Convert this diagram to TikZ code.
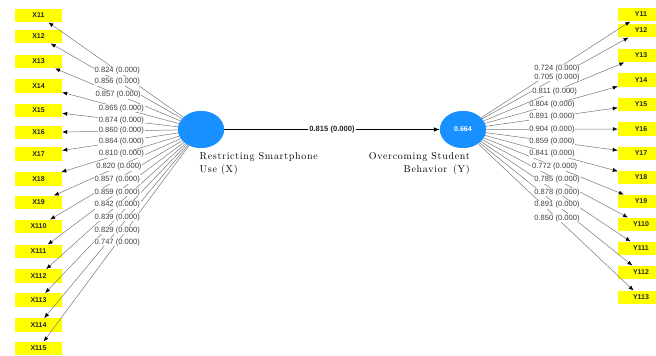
\documentclass[tikz,border=0pt]{standalone}
\usepackage{fontspec}
\newfontfamily\lblfont{Liberation Sans}
\newfontfamily\namefont[LetterSpace=7]{Latin Modern Roman}
\usetikzlibrary{arrows.meta,shapes.geometric,calc}
\definecolor{lvblue}{RGB}{24,144,255}
\definecolor{indyellow}{RGB}{255,255,0}
\definecolor{linegray}{RGB}{120,120,120}

\begin{document}
\begin{tikzpicture}[x=1pt,y=-1pt,
  ind/.style={fill=indyellow, minimum width=47pt, minimum height=13.5pt, inner sep=0pt,
              font=\lblfont\fontsize{7}{8}\selectfont\bfseries, text=black!85},
  lv/.style={ellipse, fill=lvblue, minimum width=46pt, minimum height=37pt, inner sep=0pt,
             font=\lblfont\fontsize{7}{8}\selectfont\bfseries, text=white},
  load/.style={draw=linegray, line width=0.5pt, -{Latex[length=5pt,width=4pt,color=black]}},
  wl/.style={fill=white, inner sep=0.6pt, font=\lblfont\fontsize{7.6}{9}\selectfont, text=black!75},
  lvname/.style={font=\namefont\fontsize{10}{12.5}\selectfont}
]
\useasboundingbox (0,0) rectangle (656,356);

% latent variables
\node[lv] (X) at (201,129.5) {};
\node[lv] (Y) at (463,129.5) {0.664};

% indicators of X
\foreach \idx/\yy in {11/15.5,12/36.5,13/61.5,14/86,15/110.5,16/132.5,17/154,18/179,
                      19/202.5,110/226.5,111/251.5,112/276,113/300,114/325,115/348.5}
  \node[ind] (X\idx) at (38.5,\yy) {X\idx};

% indicators of Y
\foreach \idx/\yy in {11/14.5,12/30.5,13/55.5,14/80,15/104.5,16/129,17/153.5,18/177.5,
                      19/201.5,110/224.5,111/248.5,112/272.5,113/297.5}
  \node[ind, minimum width=46pt] (Y\idx) at (641,\yy) {Y\idx};

% outer loadings of X
\foreach \idx/\val/\fr in {11/0.824/0.515,12/0.856/0.515,13/0.857/0.51,14/0.865/0.49,
                           15/0.874/0.49,16/0.860/0.49,17/0.864/0.49,18/0.810/0.49,
                           19/0.820/0.505,110/0.857/0.515,111/0.859/0.515,112/0.842/0.515,
                           113/0.839/0.515,114/0.829/0.515,115/0.747/0.515}
  \draw[load] (X) -- (X\idx);
\foreach \idx/\val/\fr in {11/0.824/0.515,12/0.856/0.515,13/0.857/0.51,14/0.865/0.49,
                           15/0.874/0.49,16/0.860/0.49,17/0.864/0.49,18/0.810/0.49,
                           19/0.820/0.505,110/0.857/0.515,111/0.859/0.515,112/0.842/0.515,
                           113/0.839/0.515,114/0.829/0.515,115/0.747/0.515}
  \node[wl] at ($(X.center)!\fr!(X\idx.center)$) {\val{} (0.000)};

% outer loadings of Y
\foreach \idx/\val/\fr in {11/0.724/0.528,12/0.705/0.528,13/0.811/0.515,14/0.804/0.5,
                           15/0.891/0.5,16/0.904/0.5,17/0.859/0.5,18/0.841/0.5,
                           19/0.772/0.515,110/0.785/0.528,111/0.878/0.528,112/0.891/0.528,
                           113/0.850/0.528}
  \draw[load] (Y) -- (Y\idx);
\foreach \idx/\val/\fr in {11/0.724/0.528,12/0.705/0.528,13/0.811/0.515,14/0.804/0.5,
                           15/0.891/0.5,16/0.904/0.5,17/0.859/0.5,18/0.841/0.5,
                           19/0.772/0.515,110/0.785/0.528,111/0.878/0.528,112/0.891/0.528,
                           113/0.850/0.528}
  \node[wl] at ($(Y.center)!\fr!(Y\idx.center)$) {\val{} (0.000)};

% redraw latent variables above the loading lines
\node[lv] at (X.center) {};
\node[lv] at (Y.center) {0.664};

% structural path
\draw[black, line width=0.6pt, -{Latex[length=6pt,width=4.5pt]}] (X) --
  node[fill=white, inner sep=1pt, font=\lblfont\fontsize{7.6}{9}\selectfont\bfseries, text=black!85] {0.815 (0.000)} (Y);

% construct names
\node[lvname, anchor=base west, align=left, inner sep=0pt] (xname) at (199.5,172)
  {Restricting Smartphone\\Use (X)};
\node[lvname, anchor=base east, align=right, inner sep=0pt] (yname) at (470,172)
  {Overcoming Student\\Behavior \,(Y)};
\end{tikzpicture}
\end{document}
